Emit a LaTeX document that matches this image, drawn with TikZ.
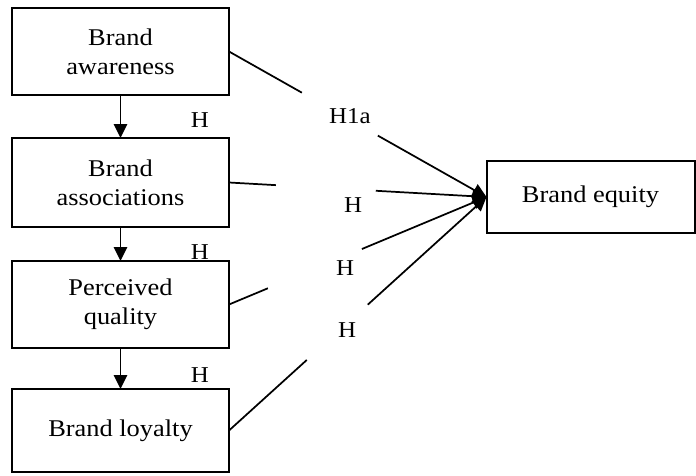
\documentclass[tikz,border=0pt]{standalone}
\usepackage{fontspec}
\setmainfont{Liberation Serif}[FakeStretch=1.1]
\usetikzlibrary{calc}
\usetikzlibrary{positioning, arrows.meta}
\tikzset{
    >={Triangle[length=10.5pt,width=10pt]}, % filled arrow heads
    x=0.75pt, y=-0.75pt, % coordinates in pixels of the original figure
    every node/.style={font=\fontsize{18}{22}\selectfont}, % text size for all nodes
    construct/.style={draw, line width=1.5pt, align=center, inner sep=0pt, outer sep=0pt,
        minimum width=162.75pt, minimum height=65.25pt}, % the boxes on the left
    hyp/.style={inner sep=0pt, font=\fontsize{17}{20}\selectfont}, % the hypothesis labels
    link/.style={line width=1.3pt}, % the lines towards brand equity
}

\begin{document}
\begin{tikzpicture}
    \useasboundingbox (0,0) rectangle (696,475);

    \node[construct](aware) at (120.5,51.5){Brand\\awareness};
    \node[construct, minimum height=66.75pt, below=32.25pt of aware](assoc){Brand\\associations};
    \node[construct, below=25.5pt of assoc](qual){Perceived\\quality};
    \node[construct, minimum height=62.25pt, below=30.75pt of qual](loyal){Brand loyalty};
    \node[construct, minimum width=156pt, minimum height=54pt](equity) at (590.5,197){Brand equity};

    \draw[->, line width=1.3pt] (aware) -- (assoc);
    \draw[->, line width=1.3pt] (assoc) -- (qual);
    \draw[->, line width=1.3pt] (qual) -- (loyal);

    \draw[link] (aware.east) -- ($(aware.east)!0.283!(equity.west)$);
    \draw[link, ->] ($(aware.east)!0.578!(equity.west)$) -- (equity.west);
    \draw[link] (assoc.east) -- ($(assoc.east)!0.182!(equity.west)$);
    \draw[link, ->] ($(assoc.east)!0.570!(equity.west)$) -- (equity.west);
    \draw[link] (qual.east) -- ($(qual.east)!0.151!(equity.west)$);
    \draw[link, ->] ($(qual.east)!0.516!(equity.west)$) -- (equity.west);
    \draw[link] (loyal.east) -- ($(loyal.east)!0.302!(equity.west)$);
    \draw[link, ->] ($(loyal.east)!0.539!(equity.west)$) -- (equity.west);

    \node[hyp](h1) at (200,120.5){H};
    \node[hyp](h2) at (200,252){H};
    \node[hyp](h3) at (200,375){H};
    \node[hyp](h1a) at (350,116){H1a};
    \node[hyp](h4) at (353,205){H};
    \node[hyp](h5) at (345,268){H};
    \node[hyp](h6) at (347,330){H};
\end{tikzpicture}
\end{document}
